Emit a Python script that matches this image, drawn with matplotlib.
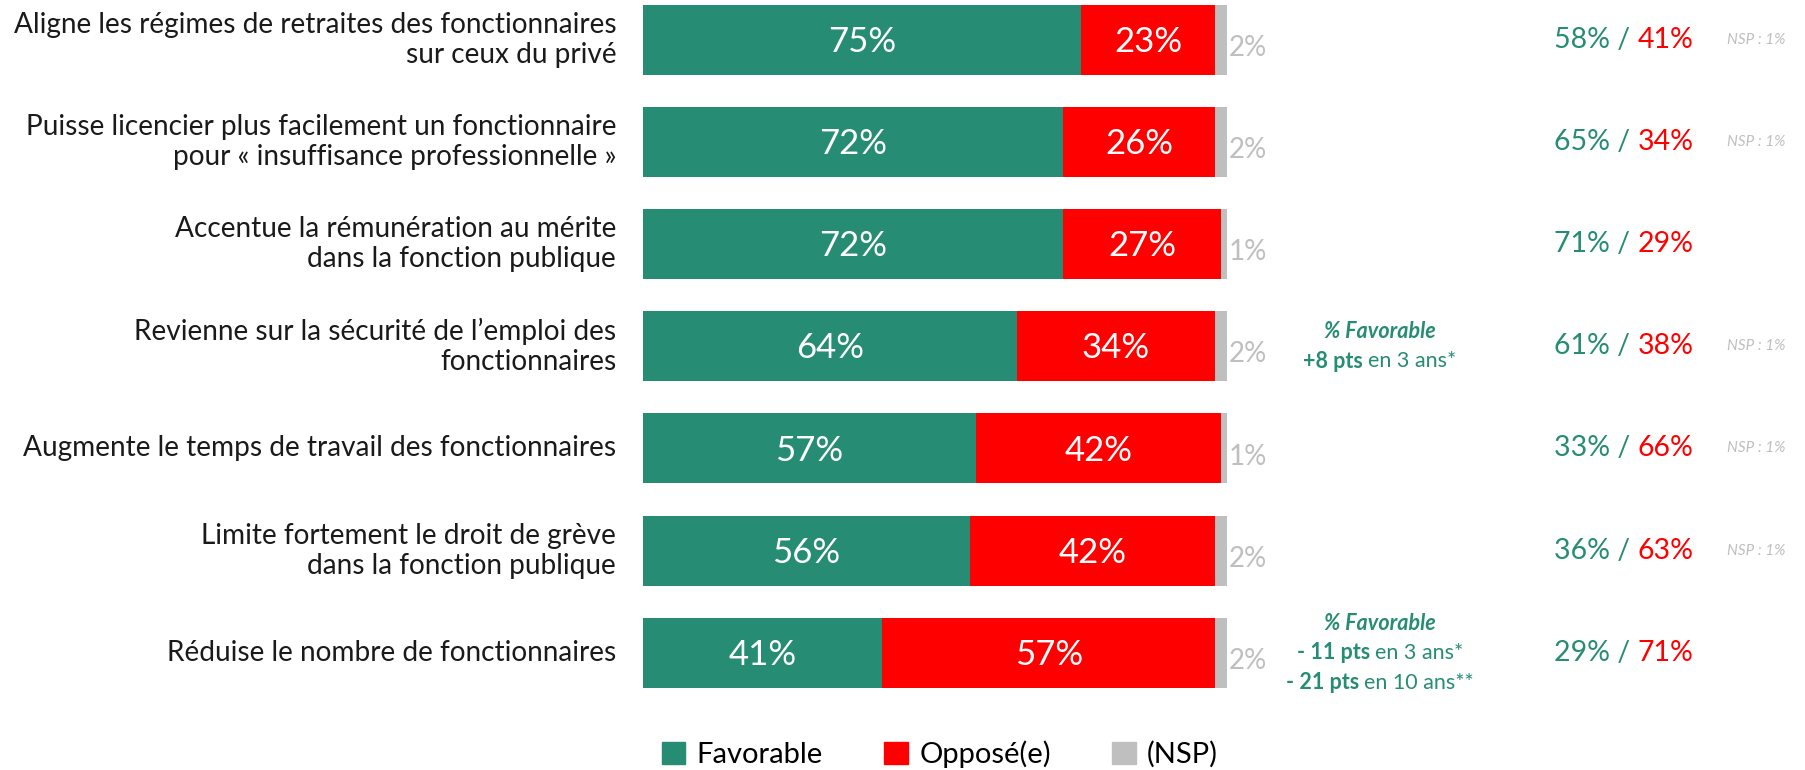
import numpy as np
import matplotlib.pyplot as plt
from matplotlib.patches import Patch

plt.rcParams['font.family'] = ['Lato', 'DejaVu Sans']

# données
labels = [
    "Aligne les régimes de retraites des fonctionnaires\nsur ceux du privé",
    "Puisse licencier plus facilement un fonctionnaire\npour « insuffisance professionnelle »",
    "Accentue la rémunération au mérite\ndans la fonction publique",
    "Revienne sur la sécurité de l\u2019emploi des\nfonctionnaires",
    "Augmente le temps de travail des fonctionnaires",
    "Limite fortement le droit de grève\ndans la fonction publique",
    "Réduise le nombre de fonctionnaires",
]
favorable = [75, 72, 72, 64, 57, 56, 41]
oppose = [23, 26, 27, 34, 42, 42, 57]
nsp = [2, 2, 1, 2, 1, 2, 2]
prev_fav = [58, 65, 71, 61, 33, 36, 29]
prev_opp = [41, 34, 29, 38, 66, 63, 71]
prev_nsp = ["NSP : 1%", "NSP : 1%", "", "NSP : 1%", "NSP : 1%", "NSP : 1%", ""]
evolutions = {
    3: [[("+8 pts", "bold"), ("en 3 ans*", "normal")]],
    6: [[("- 11 pts", "bold"), ("en 3 ans*", "normal")],
        [("- 21 pts", "bold"), ("en 10 ans**", "normal")]],
}

GREEN = '#278C74'
RED = '#FF0000'
GREY = '#BFBFBF'

fig = plt.figure(figsize=(18.05, 7.7), dpi=100)
W, H = 1805, 770
x0, bw = 643, 584
ax = fig.add_axes([x0 / W, 70 / H, bw / W, 700 / H])
ax.set_xlim(0, 100)
ax.set_ylim(6.461, -0.388)
ax.axis('off')

def px(x):
    # pixel horizontal -> coordonnée données
    return (x - x0) / bw * 100

y = np.arange(len(labels))
fav = np.array(favorable)
opp = np.array(oppose)
ns = np.array(nsp)
h = 0.685
ax.barh(y, fav, height=h, color=GREEN)
ax.barh(y, opp, left=fav, height=h, color=RED)
ax.barh(y, ns, left=fav + opp, height=h, color=GREY)

for i in range(len(labels)):
    ax.text(-4.6, i, labels[i], ha='right', va='center', fontsize=20.2,
            linespacing=1.2, color='#1a1a1a')
    ax.text(fav[i] / 2, i + 0.02, f"{fav[i]}%", ha='center', va='center',
            fontsize=25, color='white')
    ax.text(fav[i] + opp[i] / 2, i + 0.02, f"{opp[i]}%", ha='center', va='center',
            fontsize=25, color='white')
    ax.text(100.3, i + 0.08, f"{ns[i]}%", ha='left', va='center',
            fontsize=20, color=GREY)
    if prev_nsp[i]:
        ax.text(px(1756), i, prev_nsp[i], ha='center', va='center',
                fontsize=11, style='italic', color=GREY)

fig.canvas.draw()
r = fig.canvas.get_renderer()


def mixed_line(xc, yc, parts, size, gap=5):
    # parts: (texte, couleur, graisse, style)
    arts = []
    widths = []
    for t, c, wgt, st in parts:
        a = ax.annotate(t, xy=(xc, yc), xytext=(0, 0), textcoords='offset points',
                        ha='left', va='center', fontsize=size, color=c,
                        fontweight=wgt, style=st, annotation_clip=False)
        arts.append(a)
        widths.append(a.get_window_extent(r).width)
    total = sum(widths) + gap * (len(parts) - 1)
    start = -total / 2
    for a, wd in zip(arts, widths):
        a.set_position((start * 72 / 100, 0))
        start += wd + gap


for i in range(len(labels)):
    mixed_line(px(1624), i, [(f"{prev_fav[i]}% /", GREEN, 'normal', 'normal'),
                             (f"{prev_opp[i]}%", RED, 'normal', 'normal')], 20.5, gap=7)

for i, lines in evolutions.items():
    n = len(lines) + 1
    step = 0.29
    ys = [i + (k - (n - 1) / 2) * step for k in range(n)]
    mixed_line(px(1380), ys[0], [("% Favorable", GREEN, 'bold', 'italic')], 15.5)
    for k, ln in enumerate(lines):
        mixed_line(px(1380), ys[k + 1],
                   [(t, GREEN, 'bold' if w == 'bold' else 'normal', 'normal') for t, w in ln],
                   15.5, gap=5)

handles = [Patch(color=GREEN, label='Favorable'),
           Patch(color=RED, label='Opposé(e)'),
           Patch(color=GREY, label='(NSP)')]
fig.legend(handles=handles, loc='center', bbox_to_anchor=(940 / W, 1 - 754 / H),
           ncol=3, frameon=False, handlelength=0.8, handleheight=0.8,
           handletextpad=0.4, columnspacing=2.1, prop={'size': 21})

fig.savefig('out.png', dpi=100)
